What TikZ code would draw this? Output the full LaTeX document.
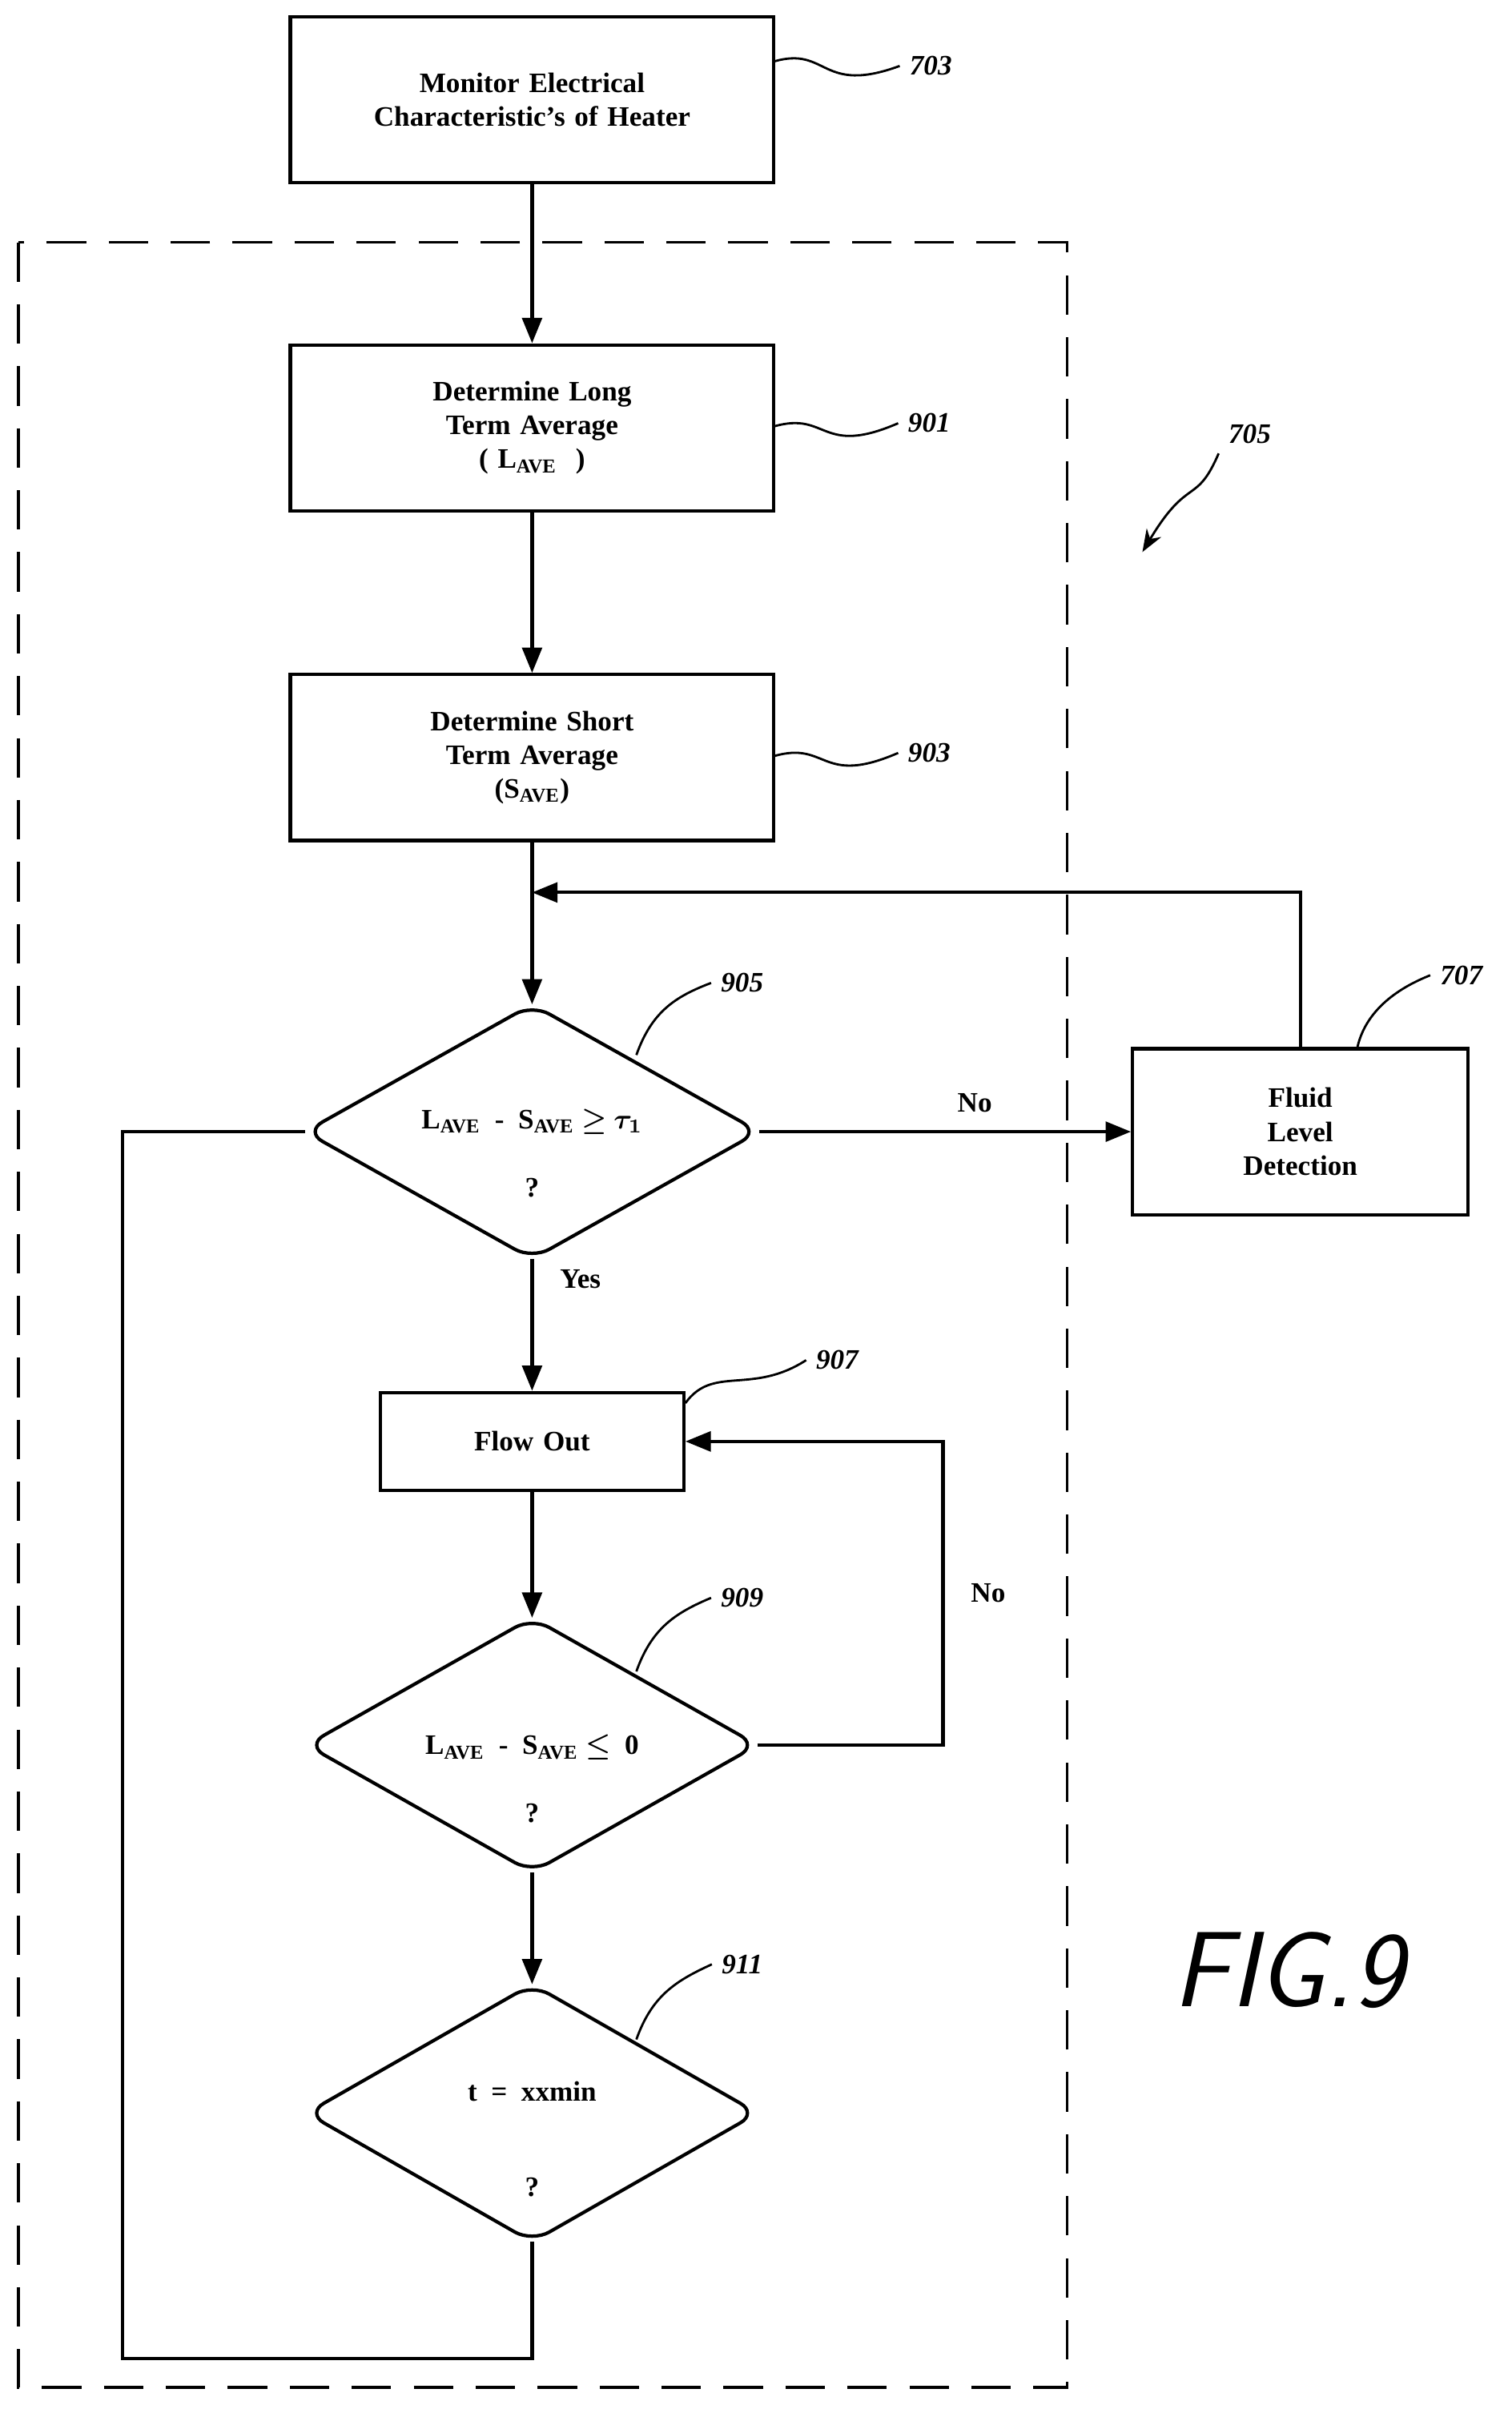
\documentclass[tikz,border=0pt]{standalone}
\usepackage{amsmath}
\usepackage{bm}
\usepackage{fontspec}
\setmainfont{Liberation Serif}
\usetikzlibrary{shapes.geometric,arrows.meta,positioning}
\tikzset{
  box/.style={draw,line width=1.2pt,align=center,font=\bfseries},
  test/.style={line width=1.2pt,rounded corners=7pt},
  flow/.style={line width=1.2pt,-{Triangle[length=9pt,width=7pt]}},
  line/.style={line width=1.2pt},
  refnum/.style={font=\bfseries\itshape},
  squig/.style={line width=0.8pt}
}
% decision shape: name, centre x, centre y, half width, half height
\newcommand{\decision}[5]{%
  \coordinate (#1-t) at (#2,#3-#5);
  \coordinate (#1-b) at (#2,#3+#5);
  \coordinate (#1-l) at (#2-#4,#3);
  \coordinate (#1-r) at (#2+#4,#3);
  \draw[test] (#1-t) -- (#1-r) -- (#1-b) -- (#1-l) -- cycle;}
\begin{document}
\begin{tikzpicture}[x=0.01914cm,y=-0.01914cm,font=\fontsize{15}{18}\selectfont]
 \useasboundingbox (0,0) rectangle (986,1571);

 % boxes
 \node[box,text width=5.8cm,minimum height=2.07cm] (mon) at (347,65) {Monitor Electrical\\Characteristic's of Heater};
 \node[box,text width=5.8cm,minimum height=2.07cm] (long) at (347,279) {Determine Long\\Term Average\\( L$_{\textbf{AVE}}$\ \ )};
 \node[box,text width=5.8cm,minimum height=2.07cm] (short) at (347,494) {Determine Short\\Term Average\\(S$_{\textbf{AVE}}$)};
 \node[box,text width=3.95cm,minimum height=2.07cm] (fluid) at (848,738) {Fluid\\Level\\Detection};
 \node[box,text width=3.55cm,minimum height=1.22cm] (out) at (347,940) {Flow Out};

 % decisions
 \decision{cmp}{347}{738}{148}{83}
 \node[font=\bfseries,align=center] (cmptxt) at (347,752) {L$_{\textbf{AVE}}$ \ - \ S$_{\textbf{AVE}}$ $\bm{\geq}$ $\bm{\tau_1}$\\[12pt]?};
 \decision{zero}{347}{1138}{147}{83}
 \node[font=\bfseries,align=center] (zerotxt) at (347,1160) {L$_{\textbf{AVE}}$ \ - \ S$_{\textbf{AVE}}$ $\bm{\leq}$ \ 0\\[12pt]?};
 \decision{time}{347}{1378}{147}{84}
 \node[font=\bfseries,align=center] (timetxt) at (347,1395) {t \ = \ xxmin\\[22pt]?};

 % dashed frame
 \draw[line width=1pt,dash pattern=on 14pt off 8pt] (12,158) rectangle (696,1557);

 % connectors
 \coordinate (join) at (347,582);
 \draw[flow] (mon) -- (long);
 \draw[flow] (long) -- (short);
 \draw[flow] (short) -- (cmp-t);
 \draw[flow] (cmp-r) -- node[above=3pt,font=\bfseries,pos=0.58]{No} (fluid);
 \draw[flow] (fluid.north) |- (join);
 \draw[flow] (cmp-b) -- node[pos=0.15,right=6pt,font=\bfseries]{Yes} (out);
 \draw[flow] (out) -- (zero-t);
 \coordinate (loopR) at (615,1138);
 \draw[flow] (zero-r) -- (loopR) |- node[pos=0.25,right=6pt,font=\bfseries]{No} (out.east);
 \draw[flow] (zero-b) -- (time-t);
 \coordinate (loopL) at (80,1538);
 \draw[line] (cmp-l) -| (loopL) -| (time-b);

 % reference numerals
 \node[refnum] (n703) at (607,43) {703};
 \node[refnum] (n901) at (606,276) {901};
 \node[refnum] (n903) at (606,491) {903};
 \node[refnum] (n905) at (484,641) {905};
 \node[refnum] (n707) at (953,636) {707};
 \node[refnum] (n907) at (546,887) {907};
 \node[refnum] (n909) at (484,1042) {909};
 \node[refnum] (n911) at (484,1281) {911};
 \node[refnum] (n705) at (815,283) {705};
 \draw[squig] (505,40) .. controls (540,30) and (535,62) .. (n703.west);
 \draw[squig] (505,278) .. controls (540,268) and (535,298) .. (n901.west);
 \draw[squig] (505,493) .. controls (540,483) and (535,513) .. (n903.west);
 \draw[squig] (415,688) .. controls (425,660) and (440,650) .. (n905.west);
 \draw[squig] (885,684) .. controls (890,660) and (910,645) .. (n707.west);
 \draw[squig] (447,915) .. controls (465,890) and (490,910) .. (n907.west);
 \draw[squig] (415,1090) .. controls (425,1062) and (440,1052) .. (n909.west);
 \draw[squig] (415,1330) .. controls (425,1302) and (440,1292) .. (n911.west);
 \draw[squig,-{Stealth[length=8pt]}] (n705.south west) .. controls (780,330) and (775,310) .. (745,360);

 \node[font=\sffamily\itshape\fontsize{38}{40}\selectfont] (fig) at (840,1285) {FIG.9};
\end{tikzpicture}
\end{document}
